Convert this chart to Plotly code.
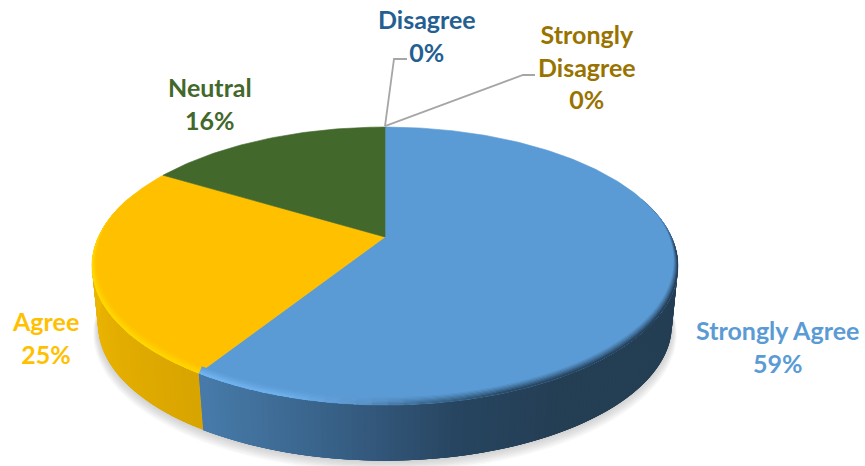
import numpy as np
import plotly.graph_objects as go

categories = ["Strongly Agree", "Agree", "Neutral", "Disagree", "Strongly Disagree"]
values = [59, 24.6, 16.4, 0, 0]
label_lines = [["Strongly Agree"], ["Agree"], ["Neutral"], ["Disagree"], ["Strongly", "Disagree"]]
colors = ["#5B9BD5", "#FFC000", "#43682B", "#255E91", "#997300"]

# projection of the tilted disc (canvas pixels)
CX, CY, A, B, P = 385.0, 237.0, 286.6, 132.9, 0.2086
DEPTH, BOTTOM_SCALE = 60.0, 0.98


def project(theta, r=1.0, dy=0.0):
    u = r * np.sin(theta)
    v = r * np.cos(theta)
    d = 1 + P * v
    return CX + A * u / d, CY - B * v / d + dy


def hexrgb(h):
    return np.array([int(h[i:i + 2], 16) for i in (1, 3, 5)], float)


def ramp(stops, u):
    xs = [s[0] for s in stops]
    cs = np.array([hexrgb(s[1]) for s in stops])
    return np.array([np.interp(u, xs, cs[:, i]) for i in range(3)])


def css(c):
    return "rgb(%d,%d,%d)" % tuple(np.clip(np.round(c), 0, 255))


WALL = {
    0: [(-0.6, "#4A7FB0"), (-0.3, "#3E6C96"), (-0.05, "#34597D"), (0.2, "#274560"), (0.5, "#243E54"), (1, "#243E54")],
    1: [(-1, "#EDB600"), (-0.8, "#E2AC00"), (-0.5, "#D6A300")],
    2: [(-1, "#3A5A25"), (0, "#3A5A25")],
}
RIM = {
    0: [(-0.6, "#74B6F2"), (-0.25, "#6CAEEA"), (-0.05, "#5B93C8"), (0.1, "#3F6E98"), (0.35, "#2A4A66"), (1, "#263F58")],
    1: [(-1, "#FFD800"), (-0.5, "#FFD400")],
    2: [(-1, "#43682B"), (0, "#43682B")],
}

fig = go.Figure()


def poly(x, y, color, width=0.0):
    fig.add_trace(go.Scatter(
        x=np.round(x, 2).tolist(), y=np.round(y, 2).tolist(), mode="lines", fill="toself",
        fillcolor=color, line=dict(color=color, width=width),
        hoverinfo="skip", showlegend=False))


# soft ground shadow
circle = np.linspace(0, 2 * np.pi, 241)
for k in range(8, 0, -1):
    x, y = project(circle, BOTTOM_SCALE + 0.002 * k, DEPTH + 1.0 * k)
    poly(x, y, "rgba(120,120,120,0.045)")

total = sum(values)
edges = np.cumsum([0] + values) / total * 2 * np.pi
OVERLAP = np.radians(3)

# outer wall: each narrow band runs under the next one, so no seam shows
for i, val in enumerate(values):
    if val == 0:
        continue
    t0, t1 = edges[i], edges[i + 1]
    n = max(2, int((t1 - t0) / np.radians(1)))
    th = np.linspace(t0, t1, n + 1)
    for a, b in zip(th[:-1], th[1:]):
        if np.cos((a + b) / 2) > 0.3:
            continue
        mid = np.sin((a + b) / 2)
        seg = np.linspace(a, min(b + OVERLAP, t1), 4)
        xt, yt = project(seg)
        xb, yb = project(seg[::-1], BOTTOM_SCALE, DEPTH)
        poly(np.r_[xt, xb, xt[0]], np.r_[yt, yb, yt[0]], css(ramp(WALL[i], mid)))

# top faces
for i, val in enumerate(values):
    if val == 0:
        continue
    th = np.linspace(edges[i], edges[i + 1], max(3, int(val * 4)))
    x, y = project(th)
    poly(np.r_[CX, x, CX], np.r_[CY, y, CY], colors[i], width=0.6)

# bevel along the front edge: bands painted inward to outward, overlapping
steps = np.linspace(1.0, 1 / 6, 6)
for i, val in enumerate(values):
    if val == 0:
        continue
    t0, t1 = edges[i], edges[i + 1]
    n = max(2, int((t1 - t0) / np.radians(2.5)))
    th = np.linspace(t0, t1, n + 1)
    base = hexrgb(colors[i])
    for g in steps:
        f0 = (1 - g + 1 / 6) ** 1.2
        for a, b in zip(th[:-1], th[1:]):
            m = (a + b) / 2
            w = np.clip((0.22 - np.cos(m)) / 0.3, 0, 1)
            if w == 0:
                continue
            edge = ramp(RIM[i], np.sin(m))
            seg = np.linspace(a, min(b + OVERLAP, t1), 4)
            x0, y0 = project(seg, 1 - 0.014 * g, -4.5 * g)
            x1, y1 = project(seg[::-1], 1.0)
            poly(np.r_[x0, x1, x0[0]], np.r_[y0, y1, y0[0]], css(base + (edge - base) * f0 * w))

# leader lines for the two empty slices
ax, ay = project(np.array([0.0]))
ax, ay = float(ax[0]), float(ay[0])
for lx, ly in [([ax, 394, 407], [ay - 1, 59, 59]), ([ax, 523, 535], [ay - 1, 75, 75])]:
    fig.add_trace(go.Scatter(x=lx, y=ly, mode="lines", line=dict(color="#A6A6A6", width=1.8),
                             hoverinfo="skip", showlegend=False))

label_pos = [(777, 346), (45, 337), (210, 103), (427, 35), (587, 66)]
for i, (lx, ly) in enumerate(label_pos):
    text = "<br>".join("<b>%s</b>" % s for s in label_lines[i] + ["%.0f%%" % values[i]])
    fig.add_annotation(x=lx, y=ly, text=text, showarrow=False, xanchor="center", yanchor="middle",
                       align="center", font=dict(family="Lato, Carlito, sans-serif", size=25, color=colors[i]))

fig.update_xaxes(range=[0, 865], visible=False, fixedrange=True)
fig.update_yaxes(range=[466, 0], visible=False, fixedrange=True)
fig.update_layout(width=865, height=466, margin=dict(l=0, r=0, t=0, b=0), showlegend=False,
                  paper_bgcolor="white", plot_bgcolor="white")
fig.write_html("out.html", config={"displayModeBar": False},
               post_script="document.body.style.margin='0';document.body.style.overflow='hidden';")
